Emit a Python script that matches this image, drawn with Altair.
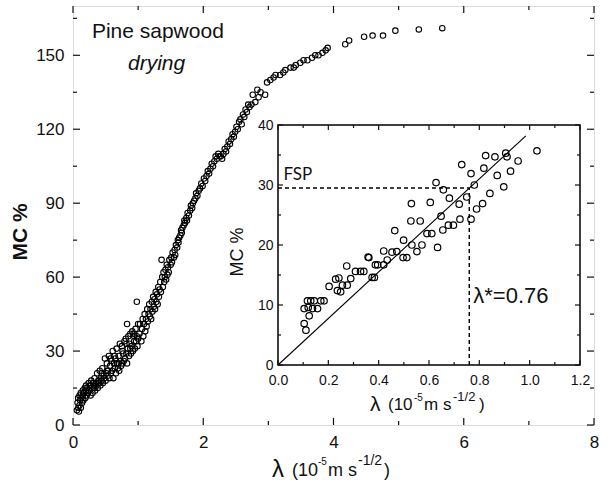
import altair as alt
import pandas as pd

# ---------------- data ----------------
main_lam = [
    0.06, 0.07, 0.08, 0.08, 0.09, 0.10, 0.10, 0.11, 0.12, 0.12, 0.13, 0.14, 0.15, 0.15, 0.16, 0.17,
    0.18, 0.19, 0.20, 0.20, 0.21, 0.22, 0.23, 0.24, 0.25, 0.26, 0.27, 0.28, 0.29, 0.30, 0.31, 0.32,
    0.33, 0.34, 0.35, 0.36, 0.37, 0.38, 0.39, 0.40, 0.41, 0.42, 0.43, 0.44, 0.45, 0.46, 0.47, 0.48,
    0.49, 0.50, 0.51, 0.52, 0.53, 0.54, 0.55, 0.56, 0.57, 0.58, 0.59, 0.60, 0.61, 0.62, 0.63, 0.64,
    0.65, 0.66, 0.67, 0.68, 0.69, 0.70, 0.71, 0.72, 0.73, 0.74, 0.75, 0.76, 0.77, 0.78, 0.79, 0.80,
    0.81, 0.82, 0.83, 0.83, 0.84, 0.85, 0.86, 0.87, 0.88, 0.89, 0.90, 0.91, 0.92, 0.93, 0.94, 0.95,
    0.96, 0.97, 0.98, 0.98, 0.99, 1.00, 1.00,
    0.33, 0.44, 0.52, 0.58, 0.64, 0.70, 0.76, 0.82, 0.88, 0.94,
    1.02, 1.03, 1.05, 1.06, 1.07, 1.08, 1.09, 1.10, 1.11, 1.12, 1.13, 1.14, 1.15, 1.16, 1.17, 1.18,
    1.19, 1.20, 1.21, 1.22, 1.23, 1.24, 1.25, 1.26, 1.27, 1.28, 1.29, 1.30, 1.31, 1.32, 1.33, 1.34,
    1.35, 1.36, 1.37, 1.38, 1.39, 1.40, 1.41, 1.42, 1.43, 1.44, 1.45, 1.46, 1.47, 1.48, 1.50, 1.51,
    1.52, 1.53, 1.55, 1.56, 1.57, 1.58, 1.60, 1.61, 1.62, 1.63, 1.65, 1.66, 1.67, 1.68, 1.70, 1.71,
    1.72, 1.74, 1.75, 1.76, 1.78, 1.80, 1.81, 1.83, 1.84, 1.86, 1.88, 1.89, 1.91, 1.93, 1.95, 1.97,
    1.99,
    2.01, 2.03, 2.05, 2.07, 2.09, 2.11, 2.13, 2.15, 2.17, 2.19, 2.21, 2.23, 2.25, 2.27, 2.29, 2.31,
    2.33, 2.35, 2.37, 2.39, 2.41, 2.43, 2.45, 2.47, 2.49, 2.51, 2.53, 2.55, 2.57, 2.59, 2.61, 2.63,
    2.65, 2.67, 2.69, 2.71, 2.74, 2.76, 2.80, 2.83, 2.85, 2.88, 2.95, 2.98,
    3.03, 3.08, 3.11, 3.18, 3.23, 3.26, 3.34, 3.39, 3.42, 3.49, 3.54, 3.60, 3.67, 3.72, 3.77, 3.83,
    3.88, 3.91, 4.18, 4.24, 4.47, 4.60, 4.76, 4.95, 5.31, 5.67,
]
main_mc = [
    6, 9, 7, 11, 5.5, 8, 12, 10, 7, 13, 11, 9, 14, 12, 10, 13,
    15, 11, 14, 16, 12, 15, 13, 17, 14, 16, 12, 18, 15, 13, 17, 15,
    19, 14, 17, 16, 21, 15, 18, 17, 22, 16, 19, 18, 23, 17, 20, 19,
    27, 18, 21, 25, 20, 22, 28, 19, 24, 21, 26, 22, 30, 19, 25, 23,
    27, 21, 31, 25, 23, 28, 22, 33, 26, 24, 32, 25, 29, 26, 34, 27,
    35, 29, 25, 41, 31, 36, 28, 33, 37, 29, 32, 38, 30, 37, 34, 31,
    39, 34, 50, 36, 32, 41, 35,
    16, 21, 22, 27, 28, 25, 30, 33, 31, 36,
    37, 41, 34, 39, 43, 36, 41, 45, 38, 43, 40, 47, 42, 45, 49, 44,
    47, 43, 50, 46, 52, 48, 51, 47, 54, 50, 53, 49, 56, 52, 55, 58,
    54, 67, 60, 56, 62, 58, 60, 63, 59, 65, 61, 64, 62, 67, 65, 68,
    66, 70, 68, 71, 69, 73, 72, 75, 74, 76, 77, 79, 78, 80, 81, 83,
    82, 84, 83, 86, 85, 87, 89, 88, 90, 91, 92, 94, 93, 95, 96, 98,
    97,
    100, 99, 101, 103, 102, 104, 106, 105, 107, 109, 108, 110, 109, 109, 108, 110,
    112, 111, 113, 115, 114, 116, 118, 117, 119, 121, 120, 123, 124, 122, 126, 125,
    128, 127, 130, 129, 130, 134, 131, 136, 133, 135, 134, 139,
    140, 141, 142, 142, 143, 144, 145, 145, 146, 147, 148, 148, 149, 150, 150, 151,
    152, 153, 154.5, 156, 157.5, 158, 158, 160, 160.5, 161,
]

inset_lam = [
    0.104, 0.111, 0.124, 0.104, 0.117, 0.130, 0.137, 0.144, 0.157, 0.170, 0.183, 0.120,
    0.203, 0.229, 0.242, 0.236, 0.249, 0.256, 0.275, 0.273, 0.289, 0.308, 0.328, 0.341,
    0.361, 0.374, 0.383, 0.387, 0.396, 0.420, 0.420, 0.434, 0.453, 0.472, 0.464, 0.497,
    0.512, 0.499, 0.532, 0.528, 0.530, 0.552, 0.565, 0.572, 0.592, 0.611, 0.605, 0.634,
    0.648, 0.655, 0.677, 0.697, 0.681, 0.723, 0.720, 0.750, 0.767, 0.789, 0.813, 0.842,
    0.730, 0.825, 0.862, 0.905, 0.910, 0.954, 1.029, 0.767, 0.818, 0.924, 0.871, 0.897,
    0.780, 0.628, 0.657, 0.358,
]
inset_mc = [
    6.9, 5.8, 8.2, 9.4, 10.7, 10.7, 9.4, 10.7, 9.4, 10.7, 10.7, 9.6,
    13.1, 14.3, 14.5, 12.4, 12.2, 13.3, 13.3, 16.5, 14.4, 15.6, 15.6, 15.6,
    17.9, 14.6, 14.6, 16.7, 16.7, 16.7, 19.0, 17.5, 18.8, 18.9, 22.4, 17.9,
    17.9, 20.8, 20.0, 24.0, 26.9, 18.9, 24.0, 20.0, 21.9, 21.9, 27.1, 19.6,
    24.8, 22.5, 23.3, 23.3, 27.8, 24.3, 26.8, 28.0, 24.3, 26.0, 26.9, 28.6,
    33.4, 34.9, 34.7, 35.3, 34.7, 34.0, 35.7, 31.9, 32.8, 32.3, 31.6, 29.7,
    30.0, 30.4, 29.2, 18.0,
]

fit_lam = [0.0, 0.985]
fit_mc = [0.0, 38.2]
fsp_mc = 29.5
lam_star = 0.76

main_x_ticks = [0, 2, 4, 6, 8]
main_x_minor = [1, 3, 5, 7]
main_y_ticks = [0, 30, 60, 90, 120, 150]
main_y_minor = [15, 45, 75, 105, 135, 165]
inset_x_ticks = [0.0, 0.2, 0.4, 0.6, 0.8, 1.0, 1.2]
inset_x_minor = [0.1, 0.3, 0.5, 0.7, 0.9, 1.1]
inset_y_ticks = [0, 10, 20, 30, 40]
inset_y_minor = [5, 15, 25, 35]

title_main = pd.DataFrame({"lam": [0.29], "mc": [157.0], "text": ["Pine sapwood"]})
subtitle_main = pd.DataFrame({"lam": [0.845], "mc": [144.0], "text": ["drying"]})
fsp_ann = pd.DataFrame({"lam": [0.022], "mc": [30.8], "text": ["FSP"]})
star_ann = pd.DataFrame({"lam": [0.776], "mc": [10.3], "text": ["λ*=0.76"]})

# ---------------- layout / style ----------------
W, H = 521, 419
IN_L, IN_R, IN_T, IN_B = 205, 507, 119, 359
FONT = "Liberation Sans"
INK = "#111111"

sx_main = alt.Scale(domain=[0, 8], nice=False, zero=False)
sy_main = alt.Scale(domain=[0, 170], nice=False, zero=False)
sx_in = alt.Scale(domain=[0, 1.2], range=[IN_L, IN_R], nice=False, zero=False)
sy_in = alt.Scale(domain=[0, 40], range=[IN_B, IN_T], nice=False, zero=False)

def axis(values, size, pad, orient, offset=0, fmt=None):
    kw = dict(values=values, labelFontSize=size, labelFont=FONT, labelColor=INK,
              ticks=False, domain=False, grid=False, labelPadding=pad,
              labelFlush=False, title=None, orient=orient, offset=offset)
    if fmt:
        kw["format"] = fmt
    return alt.Axis(**kw)

ax_mx = axis(main_x_ticks, 17, 9, "bottom")
ax_my = axis(main_y_ticks, 17, 9, "left")
ax_ix = axis(inset_x_ticks, 14, 8, "bottom", offset=-(H - IN_B), fmt=".1f")
ax_iy = axis(inset_y_ticks, 14, 5, "left", offset=-IN_L, fmt="d")

def xticks(vals, scale, ax, y0, dy):
    return alt.Chart(pd.DataFrame({"v": vals})).mark_rule(color=INK, strokeWidth=1.2).encode(
        x=alt.X("v:Q", scale=scale, axis=ax), y=alt.value(y0), y2=alt.value(y0 + dy))

def yticks(vals, scale, ax, x0, dx):
    return alt.Chart(pd.DataFrame({"v": vals})).mark_rule(color=INK, strokeWidth=1.2).encode(
        y=alt.Y("v:Q", scale=scale, axis=ax), x=alt.value(x0), x2=alt.value(x0 + dx))

def label(text, x, y, size, angle=0, align="left", baseline="alphabetic", font=FONT, **kw):
    return alt.Chart(pd.DataFrame({"t": [text]})).mark_text(
        align=align, baseline=baseline, fontSize=size, font=font, color=INK, angle=angle, **kw
    ).encode(text="t:N", x=alt.value(x), y=alt.value(y))

def ann(df, sx, sy, axx, axy, size, font=FONT, **kw):
    return alt.Chart(df).mark_text(
        align="left", baseline="alphabetic", fontSize=size, font=font, color=INK, **kw
    ).encode(
        x=alt.X("lam:Q", scale=sx, axis=axx),
        y=alt.Y("mc:Q", scale=sy, axis=axy),
        text="text:N",
    )

# ---------------- main panel ----------------
main_df = pd.DataFrame({"lam": main_lam, "mc": main_mc})
main_pts = alt.Chart(main_df).mark_point(
    shape="circle", size=30, filled=False, color="black", strokeWidth=1.1, opacity=1
).encode(
    x=alt.X("lam:Q", scale=sx_main, axis=ax_mx),
    y=alt.Y("mc:Q", scale=sy_main, axis=ax_my),
)

main_group = alt.layer(
    main_pts,
    ann(title_main, sx_main, sy_main, ax_mx, ax_my, 21),
    ann(subtitle_main, sx_main, sy_main, ax_mx, ax_my, 21, fontStyle="italic"),
    xticks(main_x_ticks, sx_main, ax_mx, H, -7), xticks(main_x_minor, sx_main, ax_mx, H, -4),
    xticks(main_x_ticks, sx_main, ax_mx, 0, 7), xticks(main_x_minor, sx_main, ax_mx, 0, 4),
    yticks(main_y_ticks, sy_main, ax_my, 0, 7), yticks(main_y_minor, sy_main, ax_my, 0, 4),
    yticks(main_y_ticks, sy_main, ax_my, W, -7), yticks(main_y_minor, sy_main, ax_my, W, -4),
)

# ---------------- inset panel ----------------
frame_df = pd.DataFrame({"x": [0.0], "x2": [1.2], "y": [0.0], "y2": [40.0]})
inset_frame = alt.Chart(frame_df).mark_rect(fill="white", stroke="black", strokeWidth=1.5).encode(
    x=alt.X("x:Q", scale=sx_in, axis=ax_ix), x2="x2:Q",
    y=alt.Y("y:Q", scale=sy_in, axis=ax_iy), y2="y2:Q",
)
inset_df = pd.DataFrame({"lam": inset_lam, "mc": inset_mc})
inset_pts = alt.Chart(inset_df).mark_point(
    shape="circle", size=42, filled=False, color="black", strokeWidth=1.2, opacity=1
).encode(
    x=alt.X("lam:Q", scale=sx_in, axis=ax_ix),
    y=alt.Y("mc:Q", scale=sy_in, axis=ax_iy),
)
fit_line = alt.Chart(pd.DataFrame({"lam": fit_lam, "mc": fit_mc})).mark_line(
    color="black", strokeWidth=1.1
).encode(
    x=alt.X("lam:Q", scale=sx_in, axis=ax_ix),
    y=alt.Y("mc:Q", scale=sy_in, axis=ax_iy),
)
fsp_line = alt.Chart(pd.DataFrame({"x": [0.0], "x2": [lam_star], "y": [fsp_mc]})).mark_rule(
    color="black", strokeWidth=1.4, strokeDash=[4, 3]
).encode(
    x=alt.X("x:Q", scale=sx_in, axis=ax_ix), x2="x2:Q",
    y=alt.Y("y:Q", scale=sy_in, axis=ax_iy),
)
star_line = alt.Chart(pd.DataFrame({"x": [lam_star], "y": [0.0], "y2": [fsp_mc]})).mark_rule(
    color="black", strokeWidth=1.4, strokeDash=[4, 3]
).encode(
    x=alt.X("x:Q", scale=sx_in, axis=ax_ix),
    y=alt.Y("y:Q", scale=sy_in, axis=ax_iy), y2="y2:Q",
)

inset_group = alt.layer(
    inset_frame, fit_line, fsp_line, star_line, inset_pts,
    ann(fsp_ann, sx_in, sy_in, ax_ix, ax_iy, 17, font="Lato"),
    ann(star_ann, sx_in, sy_in, ax_ix, ax_iy, 22),
    xticks(inset_x_ticks, sx_in, ax_ix, IN_B, -5), xticks(inset_x_minor, sx_in, ax_ix, IN_B, -3),
    xticks(inset_x_ticks, sx_in, ax_ix, IN_T, 5), xticks(inset_x_minor, sx_in, ax_ix, IN_T, 3),
    yticks(inset_y_ticks, sy_in, ax_iy, IN_L, 5), yticks(inset_y_minor, sy_in, ax_iy, IN_L, 3),
    yticks(inset_y_ticks, sy_in, ax_iy, IN_R, -5), yticks(inset_y_minor, sy_in, ax_iy, IN_R, -3),
)

# ---------------- axis titles (pixel layout) ----------------
titles = alt.layer(
    label("MC %", -52, 226, 21, angle=270, align="center", baseline="middle", fontWeight="bold"),
    label("λ", 199, 471, 24),
    label("(10", 219, 470, 18),
    label("-5", 245, 459, 10),
    label("m s", 255, 470, 18),
    label("-1/2", 285, 459, 14),
    label(")", 311, 470, 18),
    label("MC %", 165, 246, 18, angle=270, align="center", baseline="middle"),
    label("λ", 297, 405, 21),
    label("(10", 315, 404, 17),
    label("-5", 341, 395, 10),
    label("m s", 351, 404, 17),
    label("-1/2", 380, 395, 13),
    label(")", 406, 404, 17),
)

chart = alt.layer(main_group, inset_group, titles).resolve_scale(
    x="independent", y="independent"
).properties(
    width=W, height=H,
    autosize=alt.AutoSizeParams(type="none"),
    padding={"left": 73, "top": 6, "right": 15, "bottom": 70},
).configure_view(stroke="black", strokeWidth=1.5).configure(background="white")

chart.save("out.html", embed_options={"renderer": "svg", "actions": False})
